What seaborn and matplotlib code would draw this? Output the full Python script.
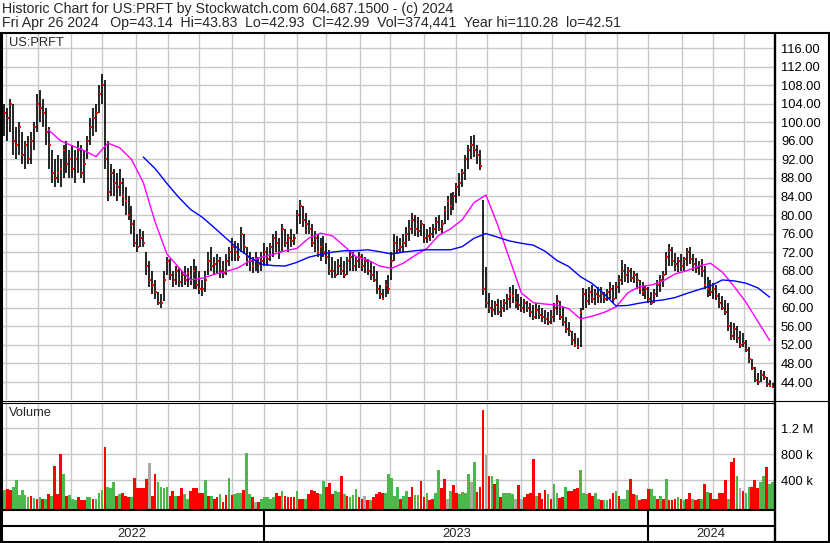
import numpy as np
import pandas as pd
import matplotlib
matplotlib.use("Agg")
import matplotlib.pyplot as plt
import seaborn as sns

# ---- data: one bar per two sessions, oldest first, last bar = Fri Apr 26 2024 ----
highs = [105, 104, 103, 105, 104, 99, 100, 98, 96, 97,
         98, 100, 106, 107, 105, 103, 99, 94, 92, 93,
         92, 95, 96, 94, 95, 94, 96, 95, 94, 97,
         101, 103, 104, 108, 110.3, 109, 96, 91, 90, 89,
         90, 88, 86, 84, 82, 79, 76, 77, 76.5, 72,
         70, 68, 66, 63.5, 63, 68, 71, 70.5, 68, 69,
         68.5, 68, 69, 68.5, 69, 70.5, 69, 68, 66, 68,
         72, 73, 71, 71.5, 71, 70, 71.5, 73, 75, 74.5,
         74, 77.5, 76, 73, 72, 71, 72, 71, 72, 74,
         73, 74, 76, 76.5, 75, 78, 77, 76, 77, 76,
         81, 83.2, 82, 80.5, 79, 78, 76.5, 76, 75, 75.5,
         74, 72.5, 71, 70, 70.5, 71, 70, 71, 72.5, 72,
         71, 72, 71.5, 71, 70.5, 70, 69, 68, 65, 64,
         66, 67, 72, 76, 75.5, 75, 76, 77.5, 79, 80.4,
         80, 79.5, 79, 78, 77, 77.4, 78, 79.5, 80, 79,
         82, 84, 84.7, 85, 87, 89, 90, 93, 95, 97,
         97.2, 95, 94, 83.2, 68.8, 63.2, 61.7, 61.5, 62, 61.7,
         62, 63, 64.5, 64.9, 64, 63, 62.3, 62, 61.5, 61,
         60.5, 61, 60.5, 60, 59.5, 59, 59.5, 61, 62.7, 61.5,
         60.2, 58, 57, 55, 54.6, 53.5, 60, 64.2, 64, 64.5,
         65, 64, 64.5, 64.5, 63.5, 64, 65.5, 65, 65.5, 67,
         70.3, 69.5, 68.8, 68.5, 68, 67.5, 66, 65.5, 65, 64.5,
         63.5, 64, 66, 67, 68, 72, 73.8, 73, 71.8, 71,
         71.5, 71, 72.8, 73, 71.5, 70.7, 70, 70.5, 69, 66.6,
         66, 65.3, 65, 63.2, 62.5, 61.7, 61, 57, 56.7, 56,
         55, 54.6, 53, 51.5, 49, 47.3, 46, 46.5, 46.3, 45,
         44.4, 43.83]
lows = [99, 97, 96, 98, 93, 92, 93, 91, 90, 91,
        91, 94, 98, 100, 99, 95, 90, 87, 86, 87,
        86, 88, 89, 88, 88, 87, 89, 88, 87, 92,
        95, 97, 98, 102, 104, 90, 83, 84, 84, 83,
        84, 82, 80, 79, 76, 73, 72, 73, 73, 67,
        64.5, 63, 62, 60.5, 60, 61.5, 67, 66, 64.5, 65,
        64.5, 64.5, 65, 64.5, 65, 64, 64, 63, 62.5, 63.5,
        67, 68, 67, 67.5, 66.5, 66.5, 67, 69, 70, 70,
        70, 72, 71.5, 69, 68, 67.5, 68, 67.5, 68, 69,
        69, 70, 71, 72, 70.5, 72, 73, 72, 73, 73.5,
        76, 78, 77.5, 76, 76, 73, 72, 71, 70, 71,
        69.5, 67, 66.5, 66.5, 67, 67, 66.5, 67, 68, 68,
        68, 68.5, 68, 67.5, 67, 66, 65.5, 63, 62, 61.7,
        62.3, 63, 66, 70, 71.5, 71.8, 72, 73, 74.5, 76,
        75.5, 75.3, 75.5, 74, 74, 74.5, 75, 76, 76.5, 76,
        78, 79, 80, 81, 82.6, 84, 86, 87.6, 90, 92,
        92.5, 91, 89.7, 62.7, 60, 58.9, 58, 58.5, 58.5, 58,
        59, 59.5, 60, 61, 60, 59.5, 59, 58.9, 59, 58,
        57.4, 57.5, 57.5, 57, 56.5, 56.3, 56.5, 57, 58.5, 57.4,
        56, 54.6, 54, 52, 51.5, 51.1, 51.5, 59.5, 60, 60.5,
        61, 60.5, 61, 61, 61, 61.5, 62, 61, 62, 63.2,
        65, 65.5, 65.3, 65.5, 65.3, 64, 63, 62.5, 62, 61,
        60.7, 61, 62.3, 63.5, 64.5, 67, 69, 69, 68, 67.7,
        68, 68, 69, 69.5, 68, 67.5, 67, 66.6, 64, 62.3,
        62.5, 62, 61.7, 60, 59.5, 58.5, 55, 53, 53, 52.5,
        51.3, 51.5, 50.5, 48, 46.5, 44, 43.4, 44, 44.5, 43,
        42.9, 42.93]
closes = [104, 102, 101, 104, 96, 95, 99, 93, 95, 92,
          96, 99, 104, 103, 102, 98, 95, 89, 88, 89,
          90, 94, 91, 92, 90, 92, 94, 89, 91, 96,
          99, 101, 102, 106, 108, 92, 85, 89, 87, 86,
          87, 84, 83, 80, 78, 74, 73, 75, 74, 69,
          66, 65, 63.5, 61, 61, 66, 70, 67, 66, 68,
          65.5, 67, 66, 67.5, 66, 68, 65, 64, 64, 66,
          70, 69, 69.5, 70, 68, 67.5, 70, 72, 73, 72,
          71, 76, 73, 71, 70, 69, 70.5, 69.5, 70, 72,
          70.5, 73, 75, 74, 72, 77, 74, 75, 74.5, 75,
          80, 82, 79, 78, 77, 74, 75, 72, 73, 72,
          71, 68, 68, 67, 69, 68, 67, 70, 71, 69,
          70, 71, 69, 70, 68, 67, 66, 64, 63, 62,
          65, 64, 70, 74, 72.5, 73, 74, 76, 77, 79,
          77, 76.5, 78, 75, 75.5, 76, 77, 78.5, 77, 78,
          81, 83, 82, 84, 86, 87, 89, 92, 94, 95,
          94, 93, 90.6, 64, 61, 60, 59.5, 60.5, 59, 60,
          61, 62, 63, 62.5, 61, 60.5, 60, 61, 60, 59,
          58, 59.5, 58.5, 58, 57.5, 57, 58, 60, 61.5, 58,
          57, 55.5, 55, 53, 52, 51.5, 59, 63, 61.5, 63.5,
          62, 63, 62.5, 63, 62, 63.5, 64, 62, 64.5, 66,
          68, 67, 68, 66.5, 67, 66, 64, 63.5, 64, 62,
          61, 63, 65, 66, 67, 71, 72.5, 70, 69.5, 70,
          69, 70.5, 72, 70.5, 69.5, 68.5, 69, 68, 65, 64,
          63.5, 64, 62.5, 61, 60, 59, 56, 54, 55.5, 53.5,
          52, 52.5, 51, 49, 47, 44.5, 44, 45.5, 45, 43.5,
          43.2, 42.99]
# volume in thousands; r = down, g = up, n = unchanged
volume_k = [340, 250, 260, 250, 300, 400, 180, 250, 170, 140,
            160, 130, 110, 140, 110, 110, 190, 160, 620, 190,
            800, 490, 160, 170, 110, 90, 140, 90, 90, 140,
            150, 110, 120, 200, 250, 920, 290, 280, 380, 160,
            190, 200, 160, 150, 140, 430, 280, 280, 280, 420,
            670, 160, 490, 380, 290, 280, 300, 160, 230, 160,
            160, 280, 190, 110, 230, 280, 280, 200, 200, 410,
            160, 160, 110, 140, 190, 60, 170, 430, 170, 190,
            200, 200, 250, 820, 190, 140, 60, 60, 110, 140,
            140, 110, 140, 200, 160, 240, 160, 150, 140, 140,
            230, 110, 110, 110, 190, 250, 230, 200, 190, 390,
            290, 360, 190, 230, 220, 470, 190, 160, 150, 170,
            260, 150, 110, 160, 90, 90, 140, 190, 220, 200,
            200, 500, 440, 160, 300, 120, 160, 240, 150, 290,
            170, 170, 390, 140, 200, 100, 120, 200, 560, 280,
            420, 120, 230, 330, 200, 190, 220, 200, 490, 370,
            680, 220, 300, 1480, 790, 460, 460, 350, 420, 150,
            200, 200, 200, 190, 120, 330, 120, 150, 190, 200,
            730, 160, 200, 120, 250, 190, 120, 350, 200, 130,
            140, 300, 230, 240, 260, 280, 560, 200, 190, 200,
            160, 200, 110, 100, 90, 90, 120, 200, 240, 160,
            120, 120, 250, 420, 190, 170, 90, 110, 120, 270,
            260, 160, 120, 160, 120, 420, 100, 90, 110, 150,
            120, 90, 120, 200, 120, 90, 120, 120, 350, 220,
            200, 110, 110, 200, 200, 410, 120, 680, 740, 460,
            280, 240, 200, 300, 290, 410, 280, 380, 460, 600,
            350, 374]
volume_dir = ("rgrrgggggg" "rgrgrgrgrr" "rgrgggrrrg" "grgggrgggr" "grrrgrrrrr"
              "nrrggggrrg" "rrggrrrrrg" "rgrrgrrgrg" "ggrggrnrgg" "gggrrgrrrr"
              "grrgrrrrgg" "rrrggrgrgg" "grrnrgrrrr" "gggggrggrr" "ggrrgrrggr"
              "rngrrggggn" "grrrnrgrgr" "ggggnrnrrr" "rgrrrgrggr" "rgrrrrgggr"
              "rggrggrrgr" "gggrrgrrrr" "ggrgrgrrrg" "rgrrgrrgrg" "rrrrrrgrrg"
              "nrggrrrggr" "gg")
# moving averages, sampled every 4th bar
ma_step = 4
ma_fast_start = 16
ma_fast = [98.3, 96, 94.9, 93.9, 92.6, 95.5, 94.5, 92, 87, 78.5,
           71.6, 68.7, 66, 66.4, 67.2, 67.8, 68.6, 70.1, 70.9, 71.5,
           72.3, 72.8, 75, 76.1, 75.5, 73.3, 71, 70.3, 69, 68.5,
           69.6, 71.3, 72.8, 75.6, 77, 79, 82.7, 84.3, 77.8, 70.5,
           63.2, 61.1, 60.8, 60.6, 59.8, 57.6, 58.2, 59, 60.2, 63.2,
           64.6, 64.9, 65.8, 67.3, 68, 69, 69.6, 67.7, 64.6, 61.2,
           57.1, 53]
ma_slow_start = 48
ma_slow = [92.5, 90, 86.8, 83.8, 81.2, 79.5, 77.3, 75, 72.8, 70.9,
           69.4, 69.1, 69, 69.8, 70.9, 71.5, 72, 72.3, 72.3, 72.5,
           72.1, 71.6, 72, 72.3, 72.5, 72.5, 72.5, 73.2, 75, 76,
           75.2, 74.4, 73.9, 73.5, 72.2, 70.2, 68.9, 66.7, 65.2, 63,
           60.4, 60.5, 61, 61.4, 61.7, 62.2, 63.1, 63.9, 64.7, 66,
           65.8, 65.3, 64.3, 62.3]

price_ticks = list(range(44, 117, 4))
vol_ticks = [400, 800, 1200]
vol_tick_labels = ["400 k", "800 k", "1.2 M"]
title_1 = "Historic Chart for US:PRFT by Stockwatch.com 604.687.1500 - (c) 2024"
title_2 = ("Fri Apr 26 2024   Op=43.14  Hi=43.83  Lo=42.93  Cl=42.99  "
           "Vol=374,441  Year hi=110.28  lo=42.51")

# ---- frames ----
n = len(closes)
sessions = pd.bdate_range(end="2024-04-26", periods=2 * n - 1)
df = pd.DataFrame({"x": np.arange(n) * 2, "high": highs, "low": lows,
                   "close": closes, "vol": volume_k, "dir": list(volume_dir)})
fast = pd.DataFrame({"x": (ma_fast_start + np.arange(len(ma_fast)) * ma_step) * 2, "v": ma_fast})
slow = pd.DataFrame({"x": (ma_slow_start + np.arange(len(ma_slow)) * ma_step) * 2, "v": ma_slow})

months = sessions.to_period("M")
month_idx = np.flatnonzero(months[1:] != months[:-1]) + 1
years = sessions.year
year_idx = np.flatnonzero(years[1:] != years[:-1]) + 1

sns.set_style("white")
plt.rcParams["font.family"] = ["Liberation Sans", "DejaVu Sans"]

W, H = 830, 543
fig = plt.figure(figsize=(W / 100, H / 100), dpi=100)


def box(x0, y0, x1, y1):
    return [x0 / W, 1 - y1 / H, (x1 - x0) / W, (y1 - y0) / H]


ax = fig.add_axes(box(0, 34, 774, 400))
axv = fig.add_axes(box(0, 403, 774, 509), sharex=ax)
axd = fig.add_axes(box(0, 509, 774, 541), sharex=ax)
xmin, xmax = -1, 2 * (n - 1) + 1

grid_kw = dict(color="#c8c8c8", lw=1.0)
for a in (ax, axv, axd):
    for s in a.spines.values():
        s.set_visible(False)
    a.set_axisbelow(True)

# price panel
ax.vlines(df["x"], df["low"], df["high"], color="black", lw=1.2, zorder=3)
sns.scatterplot(data=df, x=df["x"] + 0.6, y="close", color="red", marker="s",
                s=3, linewidth=0, ax=ax, zorder=4)
sns.lineplot(data=fast, x="x", y="v", color="#ff00ff", lw=1.0, ax=ax, zorder=5)
sns.lineplot(data=slow, x="x", y="v", color="#0000ff", lw=1.0, ax=ax, zorder=5)
ax.set_ylim(40.12, 119.02)
ax.set_yticks(price_ticks)
ax.set_yticklabels([f"{p:.2f}" for p in price_ticks])
ax.grid(True, **grid_kw)

# volume panel
vcolors = {"r": "#ff0000", "g": "#4cb84c", "n": "#a8a8a8"}
axv.bar(df["x"], df["vol"] + 41, bottom=-41, width=1.85,
        color=[vcolors[c] for c in df["dir"]], edgecolor="none", linewidth=0,
        zorder=3)
axv.set_ylim(-41, 1589)
axv.set_yticks(vol_ticks)
axv.set_yticklabels(vol_tick_labels)
axv.grid(True, **grid_kw)

ax.set_xticks(month_idx)
ax.set_xlim(xmin, xmax)
for a in (ax, axv):
    a.set_xlabel("")
    a.set_ylabel("")
    a.tick_params(axis="x", length=0, labelbottom=False)
    a.tick_params(axis="y", length=0, left=False, labelleft=False, right=False,
                  labelright=True, pad=5, labelsize=9.3, labelcolor="#000000")
    for t in a.get_yticklabels():
        t.set_horizontalalignment("left")

# date rows
axd.set_ylim(0, 1)
axd.grid(False)
axd.tick_params(axis="both", length=0, labelbottom=False, labelleft=False)
axd.axhline(15 / 32, color="black", lw=1.5)
axd.vlines(year_idx, 0, 1, color="black", lw=1.5)
edges = [xmin] + list(year_idx) + [xmax]
for y, a0, a1 in zip([2022, 2023, 2024], edges[:-1], edges[1:]):
    axd.text((a0 + a1) / 2, 0.23, str(y), ha="center", va="center", fontsize=9.3)

# frame and header
ov = fig.add_axes([0, 0, 1, 1], zorder=10)
ov.set_xlim(0, W)
ov.set_ylim(H, 0)
ov.axis("off")
k = dict(color="black", solid_capstyle="butt")
ov.plot([0, W], [32.5, 32.5], lw=1.5, **k)
ov.plot([1.2, 1.2], [32, H], lw=2.2, **k)
ov.plot([774.8, 774.8], [32, H], lw=1.7, **k)
ov.plot([828.5, 828.5], [32, H], lw=1.5, **k)
ov.plot([0, W], [541.6, 541.6], lw=1.5, **k)
ov.plot([0, W], [400.5, 400.5], lw=0.8, **k)
ov.plot([0, 775], [403.2, 403.2], lw=0.8, **k)
ov.plot([0, 775], [509.8, 509.8], lw=1.5, **k)
ov.text(2, 9, title_1, fontsize=10.2, va="center", ha="left")
ov.text(2, 22.5, title_2, fontsize=10.2, va="center", ha="left")
ov.text(9, 43, "US:PRFT", fontsize=9.3, va="center", ha="left")
ov.text(9, 413, "Volume", fontsize=9.3, va="center", ha="left")

fig.savefig("out.png", dpi=100)
